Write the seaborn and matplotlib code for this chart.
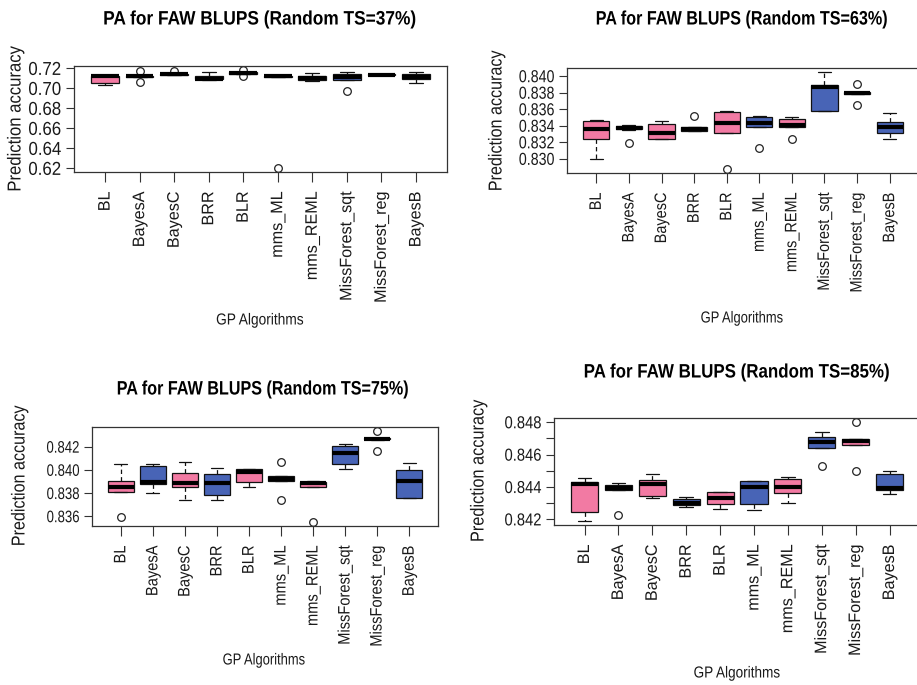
import numpy as np
import pandas as pd
import matplotlib
matplotlib.use("Agg")
import matplotlib.pyplot as plt
import seaborn as sns
from matplotlib.patheffects import AbstractPathEffect
from matplotlib.transforms import Affine2D

ALGORITHMS = ["BL", "BayesA", "BayesC", "BRR", "BLR", "mms_ML", "mms_REML",
              "MissForest_sqt", "MissForest_reg", "BayesB"]

# ---- Random TS = 37 % ----
ts37_low  = [0.7035, 0.7112, 0.7135, 0.7085, 0.7145, 0.7116, 0.7075, 0.7080, 0.7131, 0.7055]
ts37_q1   = [0.7055, 0.7115, 0.7138, 0.7090, 0.7148, 0.7118, 0.7082, 0.7085, 0.7133, 0.7098]
ts37_med  = [0.7120, 0.7122, 0.7144, 0.7097, 0.7154, 0.7122, 0.7100, 0.7118, 0.7138, 0.7118]
ts37_q3   = [0.7128, 0.7128, 0.7148, 0.7120, 0.7160, 0.7125, 0.7125, 0.7148, 0.7142, 0.7148]
ts37_high = [0.7130, 0.7132, 0.7150, 0.7163, 0.7162, 0.7127, 0.7152, 0.7165, 0.7145, 0.7165]
ts37_out  = [[], [0.7060, 0.7170], [0.7175], [], [0.7125, 0.7185],
             [0.6203], [], [0.6978], [], []]

# ---- Random TS = 63 % ----
ts63_low  = [0.83000, 0.83350, 0.83237, 0.83340, 0.83317, 0.83382, 0.83390, 0.83582, 0.83785, 0.83237]
ts63_q1   = [0.83240, 0.83357, 0.83237, 0.83343, 0.83317, 0.83382, 0.83390, 0.83582, 0.83790, 0.83317]
ts63_med  = [0.83360, 0.83373, 0.83317, 0.83360, 0.83438, 0.83438, 0.83410, 0.83871, 0.83799, 0.83386]
ts63_q3   = [0.83460, 0.83398, 0.83422, 0.83380, 0.83570, 0.83502, 0.83478, 0.83892, 0.83808, 0.83450]
ts63_high = [0.83470, 0.83406, 0.83462, 0.83390, 0.83578, 0.83522, 0.83502, 0.84052, 0.83810, 0.83550]
ts63_out  = [[], [0.83189], [], [0.83518], [0.82876],
             [0.83129], [0.83237], [], [0.83647, 0.83904], []]

# ---- Random TS = 75 % ----
ts75_low  = [0.83805, 0.83796, 0.83740, 0.83740, 0.83849, 0.83901, 0.83855, 0.84010, 0.84260, 0.83755]
ts75_q1   = [0.83805, 0.83878, 0.83855, 0.83784, 0.83893, 0.83901, 0.83855, 0.84054, 0.84262, 0.83755]
ts75_med  = [0.83855, 0.83893, 0.83890, 0.83884, 0.83980, 0.83922, 0.83884, 0.84147, 0.84267, 0.83907]
ts75_q3   = [0.83907, 0.84030, 0.83972, 0.83966, 0.84004, 0.83951, 0.83899, 0.84206, 0.84272, 0.83995]
ts75_high = [0.84048, 0.84054, 0.84068, 0.84019, 0.84004, 0.83951, 0.83907, 0.84223, 0.84274, 0.84062]
ts75_out  = [[0.83594], [], [], [], [],
             [0.83738, 0.84068], [0.83547], [], [0.84165, 0.84338], []]

# ---- Random TS = 85 % ----
ts85_low  = [0.84190, 0.84382, 0.84330, 0.84279, 0.84264, 0.84258, 0.84303, 0.84640, 0.84661, 0.84355]
ts85_q1   = [0.84248, 0.84382, 0.84345, 0.84289, 0.84295, 0.84295, 0.84366, 0.84640, 0.84661, 0.84382]
ts85_med  = [0.84419, 0.84392, 0.84417, 0.84303, 0.84330, 0.84403, 0.84403, 0.84678, 0.84682, 0.84397]
ts85_q3   = [0.84430, 0.84413, 0.84444, 0.84324, 0.84372, 0.84438, 0.84450, 0.84710, 0.84699, 0.84479]
ts85_high = [0.84454, 0.84423, 0.84479, 0.84337, 0.84372, 0.84438, 0.84465, 0.84740, 0.84699, 0.84496]
ts85_out  = [[], [0.84227], [], [], [],
             [], [], [0.84530], [0.84502, 0.84802], []]

PINK = "#F27AA3"
BLUE = "#4864B6"
box_colors = {a: (PINK if i % 2 == 0 else BLUE) for i, a in enumerate(ALGORITHMS)}

sns.set_theme(style="white")
plt.rcParams["font.family"] = ["Liberation Sans", "DejaVu Sans"]
TXT = "#1a1a1a"


class Condense(AbstractPathEffect):
    """Squeeze text horizontally (along its baseline) about a chosen end."""

    def __init__(self, sx, anchor="center"):
        super().__init__()
        self.sx = sx
        self.anchor = anchor

    def draw_path(self, renderer, gc, tpath, affine, rgbFace=None):
        if len(tpath.vertices):
            ext = tpath.get_extents()
            cx = {"left": ext.x0, "right": ext.x1}.get(self.anchor, 0.5 * (ext.x0 + ext.x1))
            affine = Affine2D().translate(-cx, 0).scale(self.sx, 1).translate(cx, 0) + affine
        renderer.draw_path(gc, tpath, affine, rgbFace)


def fold_values(low, q1, med, q3, high, out):
    """Nine cross-validation accuracies whose box statistics are the given ones."""
    below = sorted(v for v in out if v < q1)
    above = sorted(v for v in out if v > q3)
    lower = (below + [low, low])[:2]
    upper = ([high, high] + above)[-2:]
    return lower + [q1, q1, med, q3, q3] + upper


def panel_frame(low, q1, med, q3, high, out):
    rows = []
    for i, alg in enumerate(ALGORITHMS):
        for v in fold_values(low[i], q1[i], med[i], q3[i], high[i], out[i]):
            rows.append({"algorithm": alg, "accuracy": v})
    return pd.DataFrame(rows)


W, H = 917, 685
fig = plt.figure(figsize=(W / 100, H / 100), dpi=100)
fig.patch.set_facecolor("white")

panels = [
    dict(title="PA for FAW BLUPS (Random TS=37%)",
         data=(ts37_low, ts37_q1, ts37_med, ts37_q3, ts37_high, ts37_out),
         box=(74, 66, 447, 172), ticks=[0.62, 0.64, 0.66, 0.68, 0.70, 0.72], fmt="{:.2f}",
         label_every=1, ytick_size=13.5,
         sx=dict(title=0.89, xtick=0.97, ytick=0.90, xlab=0.86, ylab=0.89),
         title_xy=(260, 20), ylab_xy=(16, 119), xlab_xy=(260, 320)),
    dict(title="PA for FAW BLUPS (Random TS=63%)",
         data=(ts63_low, ts63_q1, ts63_med, ts63_q3, ts63_high, ts63_out),
         box=(567, 68, 919, 173), ticks=[0.830, 0.832, 0.834, 0.836, 0.838, 0.840], fmt="{:.3f}",
         label_every=1, ytick_size=12.5,
         sx=dict(title=0.83, xtick=0.87, ytick=0.82, xlab=0.81, ylab=0.86),
         title_xy=(742, 20), ylab_xy=(497, 121), xlab_xy=(742, 318)),
    dict(title="PA for FAW BLUPS (Random TS=75%)",
         data=(ts75_low, ts75_q1, ts75_med, ts75_q3, ts75_high, ts75_out),
         box=(92, 427, 438, 526), ticks=[0.836, 0.838, 0.840, 0.842], fmt="{:.3f}",
         label_every=1, ytick_size=12.0,
         sx=dict(title=0.83, xtick=0.88, ytick=0.79, xlab=0.81, ylab=0.86),
         title_xy=(263, 390), ylab_xy=(20, 476), xlab_xy=(264, 660)),
    dict(title="PA for FAW BLUPS (Random TS=85%)",
         data=(ts85_low, ts85_q1, ts85_med, ts85_q3, ts85_high, ts85_out),
         box=(554, 418, 920, 525),
         ticks=[0.842, 0.843, 0.844, 0.845, 0.846, 0.847, 0.848], fmt="{:.3f}",
         label_every=2, ytick_size=12.5,
         sx=dict(title=0.87, xtick=0.97, ytick=0.85, xlab=0.85, ylab=0.87),
         title_xy=(737, 373), ylab_xy=(479, 471), xlab_xy=(737, 673)),
]

for p in panels:
    x0, y0, x1, y1 = p["box"]
    sx = p["sx"]
    ax = fig.add_axes([x0 / W, 1 - y1 / H, (x1 - x0) / W, (y1 - y0) / H])
    df = panel_frame(*p["data"])

    sns.boxplot(
        data=df, x="algorithm", y="accuracy", hue="algorithm", order=ALGORITHMS,
        hue_order=ALGORITHMS, palette=box_colors, saturation=1, legend=False, width=0.8,
        whis=1.5, linecolor="#111111", linewidth=0.9, ax=ax,
        medianprops=dict(linewidth=3.0, color="black", solid_capstyle="butt"),
        whiskerprops=dict(linestyle=(0, (3.5, 2.5)), linewidth=0.9),
        capprops=dict(linewidth=0.9),
        flierprops=dict(marker="o", markersize=5.5, markerfacecolor="none",
                        markeredgecolor="#222222", markeredgewidth=0.9),
    )

    # R-style axis extents: 4 % padding around the data range
    vals = df["accuracy"].to_numpy()
    span = vals.max() - vals.min()
    ax.set_ylim(vals.min() - 0.04 * span, vals.max() + 0.04 * span)
    ax.set_xlim(-0.9, len(ALGORITHMS) - 0.1)

    ax.set_yticks(p["ticks"])
    ax.set_yticklabels([p["fmt"].format(t) if i % p["label_every"] == 0 else ""
                        for i, t in enumerate(p["ticks"])])
    ax.set_xticks(range(len(ALGORITHMS)))
    ax.set_xticklabels(ALGORITHMS, rotation=90)
    ax.set_xlabel("")
    ax.set_ylabel("")
    ax.tick_params(axis="y", direction="out", length=6, width=0.8, pad=3,
                   labelsize=p["ytick_size"], colors="#333333", labelcolor=TXT, left=True)
    ax.tick_params(axis="x", direction="out", length=7, width=0.8, pad=7,
                   labelsize=12, colors="#333333", labelcolor=TXT, bottom=True)
    for lbl in ax.get_yticklabels():
        lbl.set_path_effects([Condense(sx["ytick"], "right")])
    for lbl in ax.get_xticklabels():
        lbl.set_path_effects([Condense(sx["xtick"], "right")])
    for s in ax.spines.values():
        s.set_visible(True)
        s.set_color("#333333")
        s.set_linewidth(0.9)
    ax.grid(False)
    ax.set_facecolor("white")

    fig.text(p["title_xy"][0] / W, 1 - p["title_xy"][1] / H, p["title"],
             ha="center", va="center", fontsize=14, fontweight="bold", color="black",
             path_effects=[Condense(sx["title"])])
    fig.text(p["ylab_xy"][0] / W, 1 - p["ylab_xy"][1] / H, "Prediction accuracy",
             ha="center", va="center", rotation=90, fontsize=13.5, color=TXT,
             path_effects=[Condense(sx["ylab"])])
    fig.text(p["xlab_xy"][0] / W, 1 - p["xlab_xy"][1] / H, "GP Algorithms",
             ha="center", va="center", fontsize=11.5, color=TXT,
             path_effects=[Condense(sx["xlab"])])

fig.savefig("out.png", dpi=100, facecolor="white")
